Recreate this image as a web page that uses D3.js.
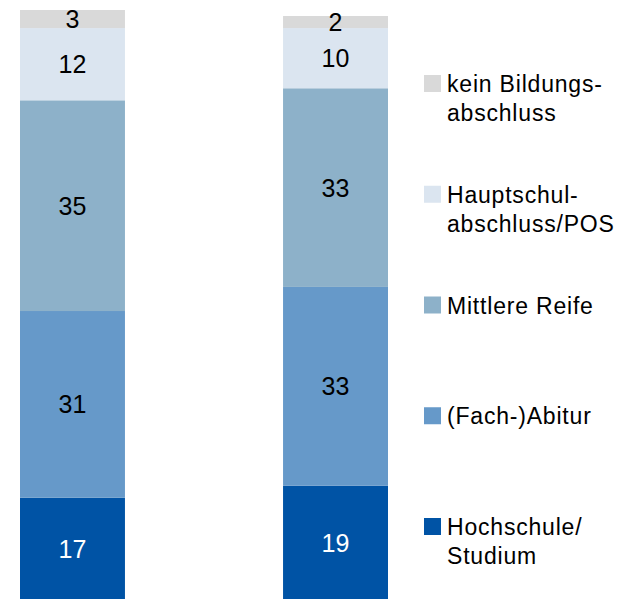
<!DOCTYPE html>
<html>
<head>
<meta charset="utf-8">
<script src="https://cdn.jsdelivr.net/npm/d3@7"></script>
<style>
  html, body { margin: 0; padding: 0; background: #fff; }
  svg { display: block; font-family: "Liberation Sans", Arial, sans-serif; }
</style>
</head>
<body>
<svg id="chart"></svg>
<script>
const width = 628; // Width of the SVG
const height = 599; // Height of the SVG

// Bars (not labelled in the chart)
const groups = ["Gruppe 1", "Gruppe 2"];

// Stack order, bottom to top
const categories = [
  "Hochschule/Studium",
  "(Fach-)Abitur",
  "Mittlere Reife",
  "Hauptschulabschluss/POS",
  "kein Bildungsabschluss",
];

// Values per category, one per bar
const hochschule = [17, 19];
const abitur = [31, 33];
const mittlereReife = [35, 33];
const hauptschule = [12, 10];
const keinAbschluss = [3, 2];

// Legend text, lines as shown
const legendLines = [
  ["Hochschule/", "Studium"],
  ["(Fach-)Abitur"],
  ["Mittlere Reife"],
  ["Hauptschul-", "abschluss/POS"],
  ["kein Bildungs-", "abschluss"],
];

const colors = ["#0053a5", "#6699c9", "#8db1c9", "#dbe5f0", "#d9d9d9"];
const labelColors = ["#fff", "#000", "#000", "#000", "#000"];

const series = [hochschule, abitur, mittlereReife, hauptschule, keinAbschluss];

// Table for d3.stack
const table = groups.map((g, i) => {
  const row = { group: g };
  categories.forEach((c, j) => (row[c] = series[j][i]));
  return row;
});

const stacked = d3.stack().keys(categories)(table);

const svg = d3.select("#chart").attr("width", width).attr("height", height);

const x = d3
  .scaleBand()
  .domain(groups)
  .range([20, 388])
  .paddingInner(0.601)
  .paddingOuter(0);

const y = d3.scaleLinear().domain([0, 98]).range([600, 10]);

const layer = svg
  .append("g")
  .selectAll("g")
  .data(stacked)
  .join("g")
  .attr("fill", (d, i) => colors[i]);

layer
  .selectAll("rect")
  .data((d) => d)
  .join("rect")
  .attr("x", (d) => x(d.data.group))
  .attr("width", x.bandwidth())
  .attr("y", (d) => y(d[1]))
  .attr("height", (d) => y(d[0]) - y(d[1]));

// Value labels in the middle of each segment
stacked.forEach((s, i) => {
  svg
    .append("g")
    .selectAll("text")
    .data(s)
    .join("text")
    .attr("x", (d) => x(d.data.group) + x.bandwidth() / 2)
    .attr("y", (d) => (y(d[0]) + y(d[1])) / 2)
    .attr("dy", "0.36em")
    .attr("text-anchor", "middle")
    .attr("font-size", 25)
    .attr("fill", labelColors[i])
    .text((d) => d[1] - d[0]);
});

// Legend, top entry is the top of the stack
const legendY = d3
  .scalePoint()
  .domain(categories.slice().reverse())
  .range([92, 535]);

const legend = svg
  .append("g")
  .selectAll("g")
  .data(categories)
  .join("g")
  .attr("transform", (d) => `translate(424,${legendY(d)})`);

legend
  .append("rect")
  .attr("x", 0)
  .attr("y", -17)
  .attr("width", 17)
  .attr("height", 17)
  .attr("fill", (d, i) => colors[i]);

legend
  .append("text")
  .attr("font-size", 23)
  .attr("letter-spacing", 0.8)
  .attr("fill", "#000")
  .selectAll("tspan")
  .data((d, i) => legendLines[i])
  .join("tspan")
  .attr("x", 23)
  .attr("y", (d, i) => i * 29)
  .text((d) => d);
</script>
</body>
</html>
